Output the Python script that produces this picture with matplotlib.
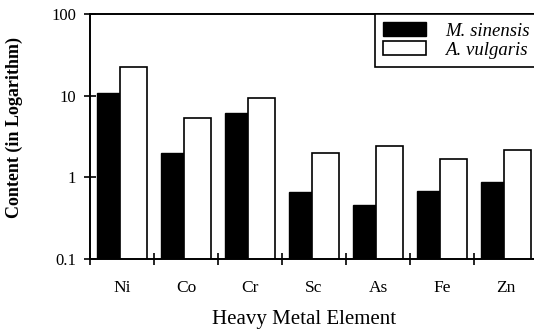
import matplotlib.pyplot as plt
import numpy as np

plt.rcParams['font.family'] = ['Liberation Serif', 'DejaVu Serif']

elements = ['Ni', 'Co', 'Cr', 'Sc', 'As', 'Fe', 'Zn']
sinensis = [10.8, 1.98, 6.1, 0.66, 0.46, 0.68, 0.87]
vulgaris = [22.4, 5.3, 9.4, 1.98, 2.42, 1.67, 2.16]

fig = plt.figure(figsize=(5.34, 3.30), dpi=100)
ax = fig.add_axes([90/534, 1 - 259/330, 448/534, 245/330])

x = np.arange(len(elements))
ax.bar(x - 0.21, sinensis, width=0.36, color='black', edgecolor='black',
       linewidth=1.0, label='M. sinensis')
ax.bar(x + 0.18, vulgaris, width=0.42, color='white', edgecolor='black',
       linewidth=1.2, label='A. vulgaris')

ax.set_yscale('log')
ax.set_ylim(0.1, 100)
ax.set_xlim(-0.5, len(elements) - 0.5)
ax.set_yticks([0.1, 1, 10, 100])
ax.set_yticklabels(['0.1', '1', '10', '100'])
ax.yaxis.set_minor_locator(plt.NullLocator())

# ticks sit between the groups, labels under the group centres
ax.set_xticks(np.arange(len(elements) + 1) - 0.5)
ax.set_xticklabels([])
ax.set_xticks(x, minor=True)
ax.set_xticklabels(elements, minor=True)
ax.tick_params(axis='x', which='major', direction='inout', length=8, width=1.2)
ax.tick_params(axis='x', which='minor', length=0, pad=15, labelsize=12.5)
ax.tick_params(axis='y', which='major', direction='inout', length=8, width=1.2,
               labelsize=12, pad=6)

for s in ax.spines.values():
    s.set_linewidth(1.4)

ax.set_xlabel('Heavy Metal Element', fontsize=15)
ax.xaxis.set_label_coords(0.478, -0.21)
ax.set_ylabel('Content (in Logarithm)', fontsize=13, fontweight='bold')
ax.yaxis.set_label_coords(-0.15, 0.535)

leg = ax.legend(loc='upper right', bbox_to_anchor=(1.0, 1.0), borderaxespad=0,
                prop={'style': 'italic', 'size': 13.5}, fancybox=False,
                edgecolor='black', framealpha=1, handlelength=2.3,
                handleheight=0.7, handletextpad=1.0, borderpad=0.45,
                labelspacing=0.1)
leg.get_frame().set_linewidth(1.2)

fig.savefig('out.png', dpi=100)
